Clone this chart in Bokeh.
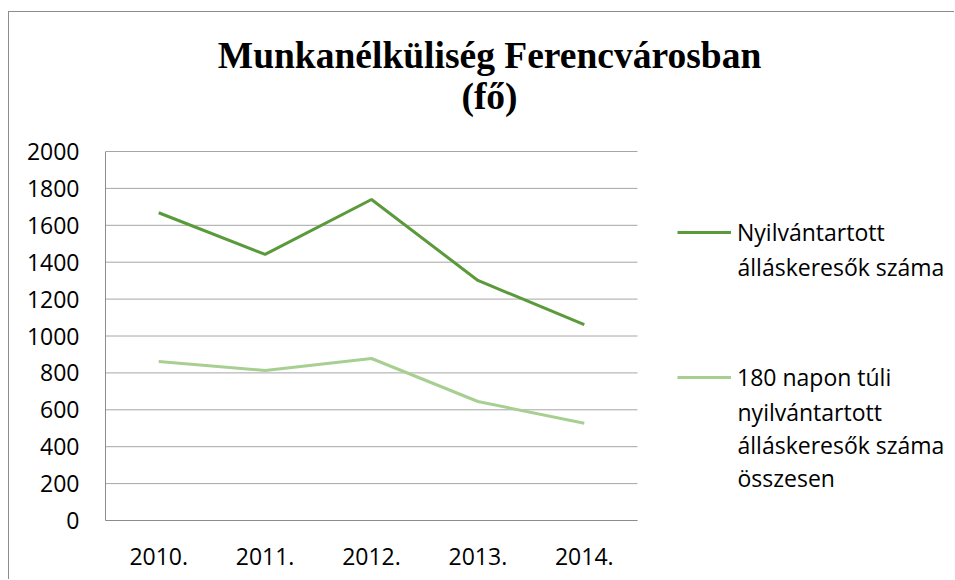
from bokeh.plotting import figure
from bokeh.models import Legend, LegendItem, Label, Range1d
from bokeh.embed import file_html
from bokeh.resources import INLINE

years = ["2010.", "2011.", "2012.", "2013.", "2014."]
registered = [1668, 1442, 1740, 1301, 1062]
long_term = [862, 813, 878, 645, 527]
y_ticks = [0, 200, 400, 600, 800, 1000, 1200, 1400, 1600, 1800, 2000]

title_lines = ["Munkanélküliség Ferencvárosban", "(fő)"]
legend1 = ["Nyilvántartott", "álláskeresők száma"]
legend2 = ["180 napon túli", "nyilvántartott", "álláskeresők száma", "összesen"]

DARK = "#5b9a3b"
LIGHT = "#a8cf92"
GRID = "#a6a6a6"
FONT = "Open Sans"
FS = "23px"

# layout (pixels)
FIG_W, FIG_H = 946, 568
BORDER_L, BORDER_B = 96, 60
FRAME_W = FIG_W - BORDER_L
FRAME_H = FIG_H - BORDER_B
PLOT_W, PLOT_H = 532, 369          # data region of the chart inside the frame

xs = list(range(len(years)))
x_lo = -0.5
x_hi = x_lo + FRAME_W / (PLOT_W / len(years))
y_max = y_ticks[-1]
y_hi = FRAME_H / (PLOT_H / y_max)

p = figure(width=FIG_W, height=FIG_H, x_range=Range1d(x_lo, x_hi), y_range=Range1d(0, y_hi),
           output_backend="svg", toolbar_location=None,
           min_border_left=BORDER_L, min_border_right=0, min_border_top=0,
           min_border_bottom=BORDER_B)
p.styles = {"margin-top": "11px", "margin-left": "8px",
            "border-top": "1px solid #8c8c8c", "border-left": "1px solid #8c8c8c"}
p.outline_line_color = None
p.background_fill_color = "white"
p.xgrid.grid_line_color = None
p.ygrid.grid_line_color = None

# horizontal gridlines across the data region only
n = len(years)
p.segment(x0=[x_lo] * len(y_ticks), x1=[x_lo + n] * len(y_ticks), y0=y_ticks, y1=y_ticks,
          line_color=GRID, line_width=1)

r1 = p.line(xs, registered, line_color=DARK, line_width=3)
r2 = p.line(xs, long_term, line_color=LIGHT, line_width=3)

p.yaxis.ticker = y_ticks
p.yaxis.bounds = (0, y_max)
p.xaxis.ticker = xs
p.xaxis.bounds = (x_lo, x_lo + n)
p.xaxis.major_label_overrides = {i: y for i, y in zip(xs, years)}
for ax in (p.xaxis, p.yaxis):
    ax.axis_line_color = "#8c8c8c"
    ax.major_tick_line_color = None
    ax.minor_tick_line_color = None
    ax.major_label_text_font = FONT
    ax.major_label_text_font_size = FS
    ax.major_label_text_color = "black"
p.yaxis.major_label_standoff = 20
p.xaxis.major_label_standoff = 21

# title
for t, y in zip(title_lines, [465, 424]):
    p.add_layout(Label(x=384, y=y, x_units="screen", y_units="screen", text=t,
                       text_align="center", text_baseline="alphabetic",
                       text_font="Liberation Serif", text_font_style="bold",
                       text_font_size="37.5px", text_color="black"))

# legend entries: line sample + first line, further lines as labels
def entry(renderer, lines, y_first):
    lg = Legend(items=[LegendItem(label=lines[0], renderers=[renderer])],
                location=(572, y_first - 15), glyph_width=54, glyph_height=30,
                label_standoff=6, label_height=30, label_text_line_height=1.0,
                label_text_font=FONT, label_text_font_size=FS, label_text_color="black",
                padding=0, margin=0, border_line_color=None, background_fill_alpha=0)
    p.add_layout(lg, "center")
    for i, t in enumerate(lines[1:], start=1):
        p.add_layout(Label(x=632, y=y_first - 33 * i, x_units="screen", y_units="screen",
                           text=t, text_align="left", text_baseline="middle",
                           text_font=FONT, text_font_size=FS, text_color="black"))

entry(r1, legend1, 520 - 233)
entry(r2, legend2, 520 - 378)

open("out.html", "w").write(file_html(p, INLINE))
